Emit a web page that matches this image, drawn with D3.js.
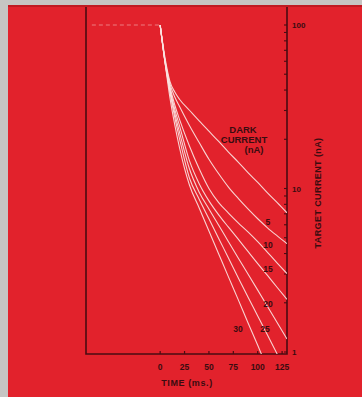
<!DOCTYPE html>
<html>
<head>
<meta charset="utf-8">
<script src="https://cdn.jsdelivr.net/npm/d3@7"></script>
<style>
  html, body { margin: 0; padding: 0; background: #c6c5c3; }
  svg { display: block; }
</style>
</head>
<body>
<svg id="chart" width="362" height="397"></svg>
<script>
// ---- data ----
const times = [0, 5, 10, 15, 20, 30, 40, 50, 60, 70, 80, 90, 100, 110, 120, 130];
const curve1 = [100, 63, 45.2, 38.9, 35, 30.1, 25.9, 22.4, 19.4, 16.7, 14.5, 12.5, 10.9, 9.4, 8.2, 7.1];
const curve2 = [100, 61, 43.7, 36.3, 31.6, 24.3, 19.1, 15.1, 12.3, 10.2, 8.7, 7.5, 6.53, 5.75, 5.13, 4.6];
const curve3 = [100, 60.3, 42.2, 32.4, 26.3, 18.2, 13.2, 10, 8.2, 7.08, 6.17, 5.43, 4.73, 4.07, 3.5, 3.02];
const curve4 = [100, 59.6, 40.7, 30.5, 24, 14.8, 10.7, 8.4, 6.9, 5.8, 4.9, 4.12, 3.47, 2.94, 2.48, 2.1];
const curve5 = [100, 59.2, 39.8, 28.8, 21.9, 13.2, 9.5, 7.5, 5.96, 4.73, 3.76, 3.0, 2.39, 1.9, 1.51, 1.2];
const curve6 = [100, 59, 38.9, 27.2, 20, 11.6, 8.6, 6.53, 4.95, 3.76, 2.85, 2.17, 1.66, 1.27, 0.97];
const curve7 = [100, 58.9, 36, 24.5, 17.6, 10.5, 7.6, 5.5, 3.98, 2.88, 2.09, 1.51, 1.1, 0.79];
const curves = [curve1, curve2, curve3, curve4, curve5, curve6, curve7];

const plateauTimes = [-70, 0];
const plateauValue = 100;

const darkLabels = ["5", "10", "15", "20", "25", "30"];
const darkLabelTimes = [110.5, 110.5, 110.5, 110.5, 107.4, 79.7];
const darkLabelValues = [6.24, 4.51, 3.22, 1.97, 1.38, 1.38];

const xTicks = [0, 25, 50, 75, 100, 125];
const yTickLabels = [100, 10, 1];
const yTitle = "TARGET CURRENT (nA)";
const xTitle = "TIME (ms.)";
const legendTitle = ["DARK", "CURRENT", "(nA)"];

// ---- drawing ----
const svg = d3.select("#chart");
const W = 362, H = 397;
const red = "#e2222c";
const ink = "#3a0c10";
const axisInk = "#4a0c12";
const font = "'Liberation Sans', Arial, sans-serif";

svg.append("rect").attr("x", 8).attr("y", 5).attr("width", W - 8).attr("height", H - 5).attr("fill", red);
svg.append("rect").attr("x", 8).attr("y", 5).attr("width", W - 8).attr("height", 2).attr("fill", "#c01a22");

const x = d3.scaleLinear().domain([-76, 130]).range([86, 287]);
const y = d3.scaleLog().domain([1, 100]).range([352, 25]);

const xB = 354, yTop = 7;

svg.append("clipPath").attr("id", "plot")
  .append("rect").attr("x", x.range()[0]).attr("y", 0)
  .attr("width", x.range()[1] - x.range()[0]).attr("height", xB);

// frame: left line, bottom line, right axis
svg.append("path")
  .attr("d", `M${x.range()[0]},${yTop}V${xB}H${x.range()[1]}V${yTop}`)
  .attr("fill", "none").attr("stroke", axisInk).attr("stroke-width", 1.6);

// x ticks (inward)
svg.append("g").selectAll("line").data(xTicks).join("line")
  .attr("x1", d => x(d)).attr("x2", d => x(d))
  .attr("y1", xB).attr("y2", xB - 3)
  .attr("stroke", axisInk).attr("stroke-width", 1.2);

svg.append("g").selectAll("text").data(xTicks).join("text")
  .attr("x", d => x(d)).attr("y", 370)
  .attr("text-anchor", "middle")
  .attr("font-family", font).attr("font-weight", "bold").attr("font-size", 8.5)
  .attr("fill", ink)
  .text(d => d);

svg.append("text").attr("x", 187).attr("y", 386)
  .attr("text-anchor", "middle")
  .attr("font-family", font).attr("font-weight", "bold").attr("font-size", 9)
  .attr("letter-spacing", 0.6)
  .attr("fill", ink).text(xTitle);

// y log ticks on the right axis (pointing inward)
const logTicks = y.ticks();
svg.append("g").selectAll("line").data(logTicks).join("line")
  .attr("x1", x.range()[1]).attr("x2", x.range()[1] - 3)
  .attr("y1", d => y(d)).attr("y2", d => y(d))
  .attr("stroke", axisInk).attr("stroke-width", 1.1);

svg.append("g").selectAll("text").data(yTickLabels).join("text")
  .attr("x", 292).attr("y", d => y(d) + 3)
  .attr("font-family", font).attr("font-weight", "bold").attr("font-size", 8)
  .attr("fill", ink)
  .text(d => d);

svg.append("text")
  .attr("transform", "translate(321,193) rotate(-90)")
  .attr("text-anchor", "middle")
  .attr("font-family", font).attr("font-weight", "bold").attr("font-size", 9)
  .attr("letter-spacing", 0.4)
  .attr("fill", ink).text(yTitle);

// plateau (dashed, faint)
svg.append("line")
  .attr("x1", x(plateauTimes[0])).attr("x2", x(plateauTimes[1]))
  .attr("y1", y(plateauValue)).attr("y2", y(plateauValue))
  .attr("stroke", "#f6c8c8").attr("stroke-width", 1)
  .attr("stroke-dasharray", "4,3").attr("opacity", 0.55);

// curves
const line = d3.line()
  .x((d, i) => x(times[i]))
  .y(d => y(d))
  .curve(d3.curveMonotoneX);

svg.append("g").attr("clip-path", "url(#plot)")
  .selectAll("path").data(curves).join("path")
  .attr("d", d => line(d))
  .attr("fill", "none")
  .attr("stroke", "#fbe2df")
  .attr("stroke-width", 1.1)
  .attr("opacity", 0.92);

// dark current labels
svg.append("g").selectAll("text").data(darkLabels).join("text")
  .attr("x", (d, i) => x(darkLabelTimes[i]))
  .attr("y", (d, i) => y(darkLabelValues[i]) + 3)
  .attr("text-anchor", "middle")
  .attr("font-family", font).attr("font-weight", "bold").attr("font-size", 8.5)
  .attr("fill", ink)
  .text(d => d);

// legend title
const legendX = [243, 244, 254];
svg.append("g").selectAll("text").data(legendTitle).join("text")
  .attr("x", (d, i) => legendX[i])
  .attr("y", (d, i) => 133 + i * 10)
  .attr("text-anchor", "middle")
  .attr("font-family", font).attr("font-weight", "bold").attr("font-size", 9.5)
  .attr("fill", ink)
  .text(d => d);
</script>
</body>
</html>
